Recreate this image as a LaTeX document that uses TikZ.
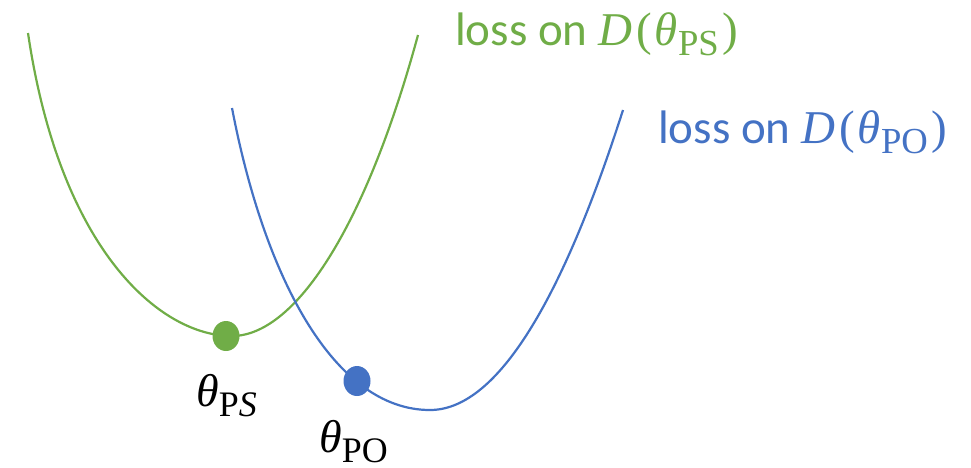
\documentclass[tikz,border=0pt]{standalone}
\usepackage{fontspec}
\setmainfont{Carlito}
\newfontfamily\symserif{Liberation Serif}
\usepackage{xcolor}
\usetikzlibrary{positioning,shapes.geometric}
\definecolor{psgreen}{HTML}{70AD47}
\definecolor{poblue}{HTML}{4472C4}
% theta with an upright subscript, set in a serif
\newcommand{\thsub}[1]{{\symserif\itshape θ}\raisebox{-0.22em}{\symserif\fontsize{0.78em}{0.78em}\selectfont #1}}
\newcommand{\lossof}[1]{{\symserif\itshape D}\kern0.1em{\symserif (}\kern0.05em\thsub{#1}\kern0.08em{\symserif )}}

\begin{document}
\begin{tikzpicture}[
  x=1pt, y=-1pt,
  curve/.style={line width=2.2pt},
  dot/.style={ellipse, inner sep=0pt, minimum width=27pt, minimum height=30pt},
  losslabel/.style={font=\fontsize{47}{52}\selectfont, anchor=base west, inner sep=0pt},
  thetalabel/.style={font=\fontsize{46}{50}\selectfont, anchor=base west, inner sep=0pt},
]
\useasboundingbox (0,0) rectangle (971,467);

% Two loss curves.
\draw[curve, psgreen] (28,33) .. controls (60,250) and (160,336) .. (232,336)
  .. controls (294,336) and (365,230) .. (418,35);
\draw[curve, poblue] (232,108) .. controls (265,280) and (335,410) .. (430,410)
  .. controls (494,410) and (559,310) .. (623,110);

% Minima markers.
\node[dot, fill=psgreen] (ps) at (226,336) {};
\node[dot, fill=poblue] (po) at (357,381) {};

% Labels.
\node[thetalabel] (pslabel) at (196,406) {\thsub{P\textit{S}}};
\node[thetalabel] (polabel) at (319,452) {\thsub{PO}};
\node[losslabel, text=psgreen] (psloss) at (455,45) {loss on \lossof{PS}};
\node[losslabel, text=poblue] (poloss) at (658,143) {loss on \lossof{PO}};

\end{tikzpicture}
\end{document}
